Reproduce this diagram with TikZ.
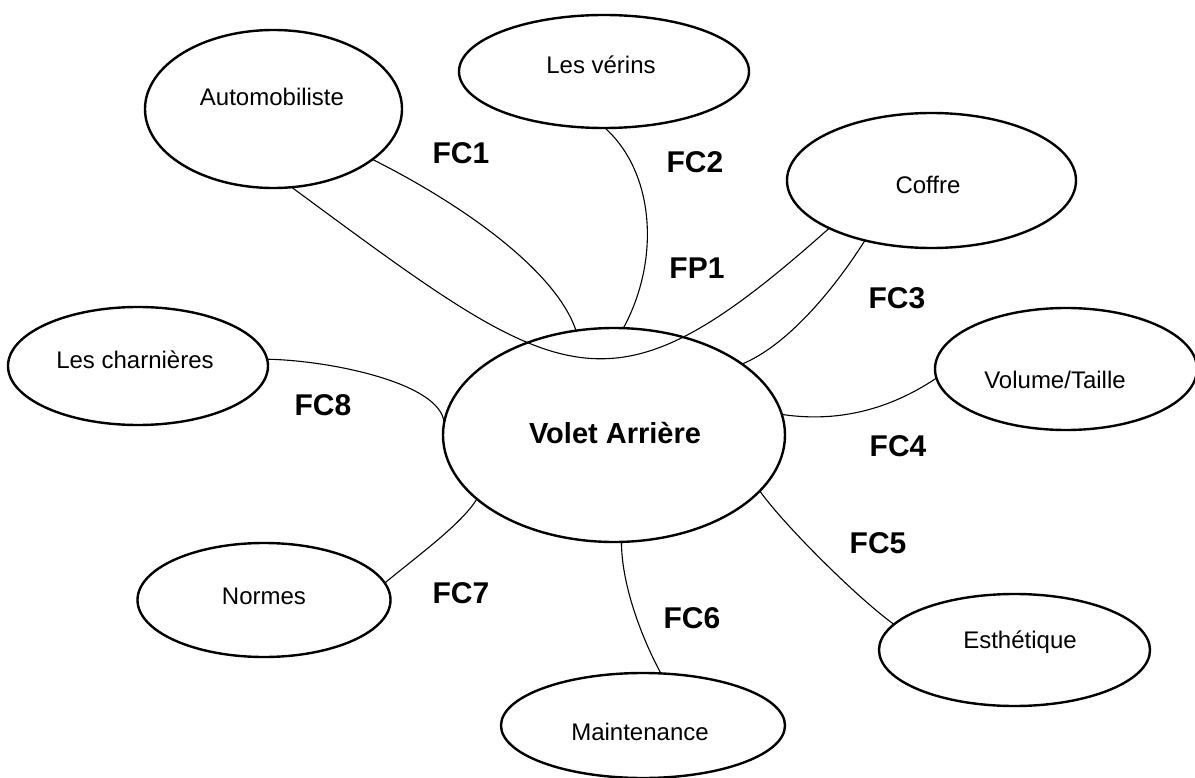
\documentclass[tikz,border=0pt]{standalone}
\usepackage{fontspec}
\setmainfont{Liberation Sans}
\usetikzlibrary{shapes.geometric}
\begin{document}
\begin{tikzpicture}[x=1pt,y=-1pt,
  ell/.style={ellipse, draw, line width=2.4pt, inner sep=0pt, outer sep=0pt},
  conn/.style={line width=1.1pt},
  lab/.style={font=\fontsize{30}{36}\selectfont\bfseries, inner sep=0pt},
  txt/.style={font=\fontsize{24}{28}\selectfont, inner sep=0pt},
  btxt/.style={font=\fontsize{29}{34}\selectfont\bfseries, inner sep=0pt}]
\useasboundingbox (0,0) rectangle (1195,778);
\fill[white] (0,0) rectangle (1195,778);

% ellipses
\node[ell, minimum width=257pt, minimum height=158pt,
      label={[txt,xshift=-1.5pt,yshift=12pt]center:Automobiliste}] (auto) at (273.5,109) {};
\node[ell, minimum width=290pt, minimum height=113pt,
      label={[txt,xshift=-3pt,yshift=6.5pt]center:Les vérins}] (verins) at (604,71.5) {};
\node[ell, minimum width=289pt, minimum height=135pt,
      label={[txt,xshift=-3.5pt,yshift=-4.5pt]center:Coffre}] (coffre) at (931.5,180.5) {};
\node[ell, minimum width=262pt, minimum height=122pt,
      label={[txt,xshift=-11pt,yshift=-11pt]center:Volume/Taille}] (volume) at (1066,369) {};
\node[ell, minimum width=271pt, minimum height=112pt,
      label={[txt,xshift=5.5pt,yshift=8pt]center:Esthétique}] (esth) at (1014.5,650) {};
\node[ell, minimum width=284pt, minimum height=105pt,
      label={[txt,xshift=-3pt,yshift=-6.5pt]center:Maintenance}] (maint) at (643,725.5) {};
\node[ell, minimum width=253pt, minimum height=114pt,
      label={[txt,yshift=4pt]center:Normes}] (normes) at (264,600) {};
\node[ell, minimum width=260pt, minimum height=118pt,
      label={[txt,xshift=-3pt,yshift=6pt]center:Les charnières}] (charn) at (138,366) {};
\node[ell, minimum width=342pt, minimum height=214pt,
      label={[btxt,xshift=1pt,yshift=2pt]center:Volet Arrière}] (volet) at (614,435) {};

% connectors
\draw[conn] (auto.-77) .. controls +(273,201) and +(-222,198) .. (coffre.-155);   % FP1
\draw[conn] (auto.-27) .. controls +(90,45) and +(-20,-60) .. (volet.110);        % FC1
\draw[conn] (verins.-89) .. controls +(50,45) and +(37,-68) .. (volet.85);        % FC2
\draw[conn] (coffre.-138.5) .. controls +(-33,52) and +(44,-18) .. (volet.29.5);  % FC3
\draw[conn] (volet.7.4) .. controls +(46,7) and +(-55,37) .. (volume.-176);       % FC4
\draw[conn] (volet.-21.7) .. controls +(25,35) and +(-35,-25) .. (esth.168);      % FC5
\draw[conn] (volet.-86.3) .. controls +(0,42) and +(-20,-37) .. (maint.71);       % FC6
\draw[conn] (volet.-155) .. controls +(-15,25) and +(30,-25) .. (normes.8.7);     % FC7
\draw[conn] (charn.3) .. controls +(62,1) and +(-2,-40) .. (volet.176.7);         % FC8

% labels
\node[lab] (fc1) at (461,153) {FC1};
\node[lab] (fc2) at (695,162) {FC2};
\node[lab] (fp1) at (697,268) {FP1};
\node[lab] (fc3) at (897,298) {FC3};
\node[lab] (fc4) at (898,446) {FC4};
\node[lab] (fc5) at (878,543) {FC5};
\node[lab] (fc6) at (692,618) {FC6};
\node[lab] (fc7) at (461,593) {FC7};
\node[lab] (fc8) at (323,405) {FC8};
\end{tikzpicture}
\end{document}
